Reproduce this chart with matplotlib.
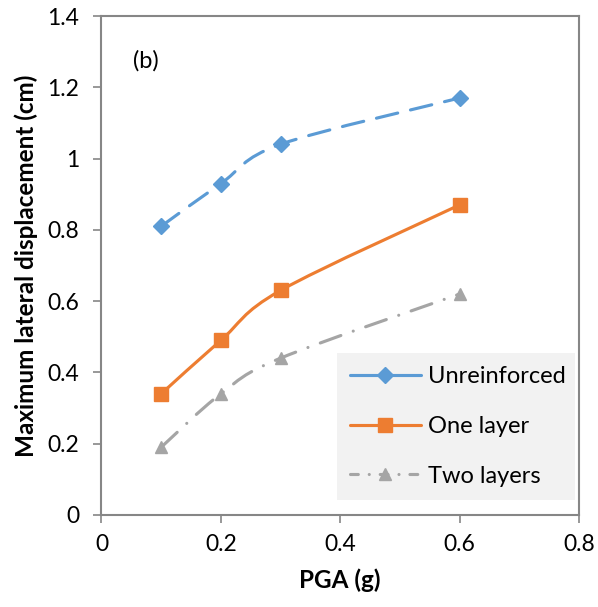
import numpy as np
import matplotlib
matplotlib.use("Agg")
import matplotlib.pyplot as plt
from matplotlib.path import Path
from matplotlib.patches import PathPatch
from matplotlib.lines import Line2D

plt.rcParams['font.family'] = ['Lato', 'DejaVu Sans']

# PGA levels and peak lateral displacement per wall type
pga = [0.1, 0.2, 0.3, 0.6]
unreinforced = [0.81, 0.93, 1.04, 1.17]
one_layer = [0.34, 0.49, 0.63, 0.87]
two_layers = [0.19, 0.34, 0.44, 0.62]

labels = ["Unreinforced", "One layer", "Two layers"]
colors = ["#5B9BD5", "#ED7D31", "#A5A5A5"]
markers = ["D", "s", "^"]
msizes = [8, 10, 9]
dashes = [(0, (7, 4.2)), "-", (0, (7, 4.2, 0.01, 4.2))]
leg_dashes = ["-", "-", (0, (2.5, 3.5, 0.01, 3.5))]

LW = 2.25
AXC = "#868686"


def smooth_path(x, y):
    # Catmull-Rom style Bezier through the points (like spreadsheet "smoothed line")
    pts = np.column_stack([x, y]).astype(float)
    n = len(pts)
    verts = [pts[0]]
    codes = [Path.MOVETO]
    for i in range(n - 1):
        p0 = pts[i - 1] if i > 0 else pts[i]
        p1 = pts[i]
        p2 = pts[i + 1]
        p3 = pts[i + 2] if i + 2 < n else pts[i + 1]
        c1 = p1 + (p2 - p0) / 6.0
        c2 = p2 - (p3 - p1) / 6.0
        verts += [c1, c2, p2]
        codes += [Path.CURVE4] * 3
    return Path(verts, codes)


fig = plt.figure(figsize=(5.98, 6.07), dpi=100)
ax = fig.add_axes([0.1697, 0.1516, 0.7985, 0.822])

series = [unreinforced, one_layer, two_layers]
handles = []
for ys, lab, c, m, ms, ls, lls in zip(series, labels, colors, markers,
                                      msizes, dashes, leg_dashes):
    patch = PathPatch(smooth_path(pga, ys), facecolor="none", edgecolor=c,
                      lw=LW, linestyle=ls, capstyle="round", zorder=2)
    ax.add_patch(patch)
    ax.plot(pga, ys, linestyle="none", marker=m, ms=ms, color=c,
            markeredgecolor=c, zorder=3)
    h = Line2D([], [], color=c, lw=LW, linestyle=lls, marker=m, ms=ms,
               markeredgecolor=c, solid_capstyle="round",
               dash_capstyle="round")
    handles.append(h)

ax.set_xlim(0, 0.8)
ax.set_ylim(0, 1.4)
ax.set_xticks([0, 0.2, 0.4, 0.6, 0.8])
ax.set_xticklabels(["0", "0.2", "0.4", "0.6", "0.8"])
ax.set_yticks([0, 0.2, 0.4, 0.6, 0.8, 1.0, 1.2, 1.4])
ax.set_yticklabels(["0", "0.2", "0.4", "0.6", "0.8", "1", "1.2", "1.4"])

for s in ax.spines.values():
    s.set_color(AXC)
    s.set_linewidth(1.5)
ax.tick_params(axis="both", direction="out", length=6, width=1.2,
               color=AXC, labelsize=16.5)
ax.tick_params(axis="x", pad=8)
ax.tick_params(axis="y", pad=10)
ax.tick_params(top=False, right=False)

ax.set_xlabel("PGA (g)", fontsize=17.5, fontweight="bold", labelpad=9)
ax.set_ylabel("Maximum lateral displacement (cm)", fontsize=17.5,
              fontweight="bold", labelpad=7)

ax.text(0.053, 1.275, "(b)", fontsize=17, ha="left", va="center")

leg = ax.legend(handles, labels, loc="upper left",
                bbox_to_anchor=(0.493, 0.3246, 0.498, 0.0), mode="expand",
                fontsize=17, handlelength=3.0, handletextpad=0.3,
                labelspacing=1.22, borderpad=0.55, borderaxespad=0,
                fancybox=False, frameon=True)
leg.get_frame().set_facecolor("#F2F2F2")
leg.get_frame().set_edgecolor("none")
leg.get_frame().set_alpha(1)

fig.savefig("out.png", dpi=100)
